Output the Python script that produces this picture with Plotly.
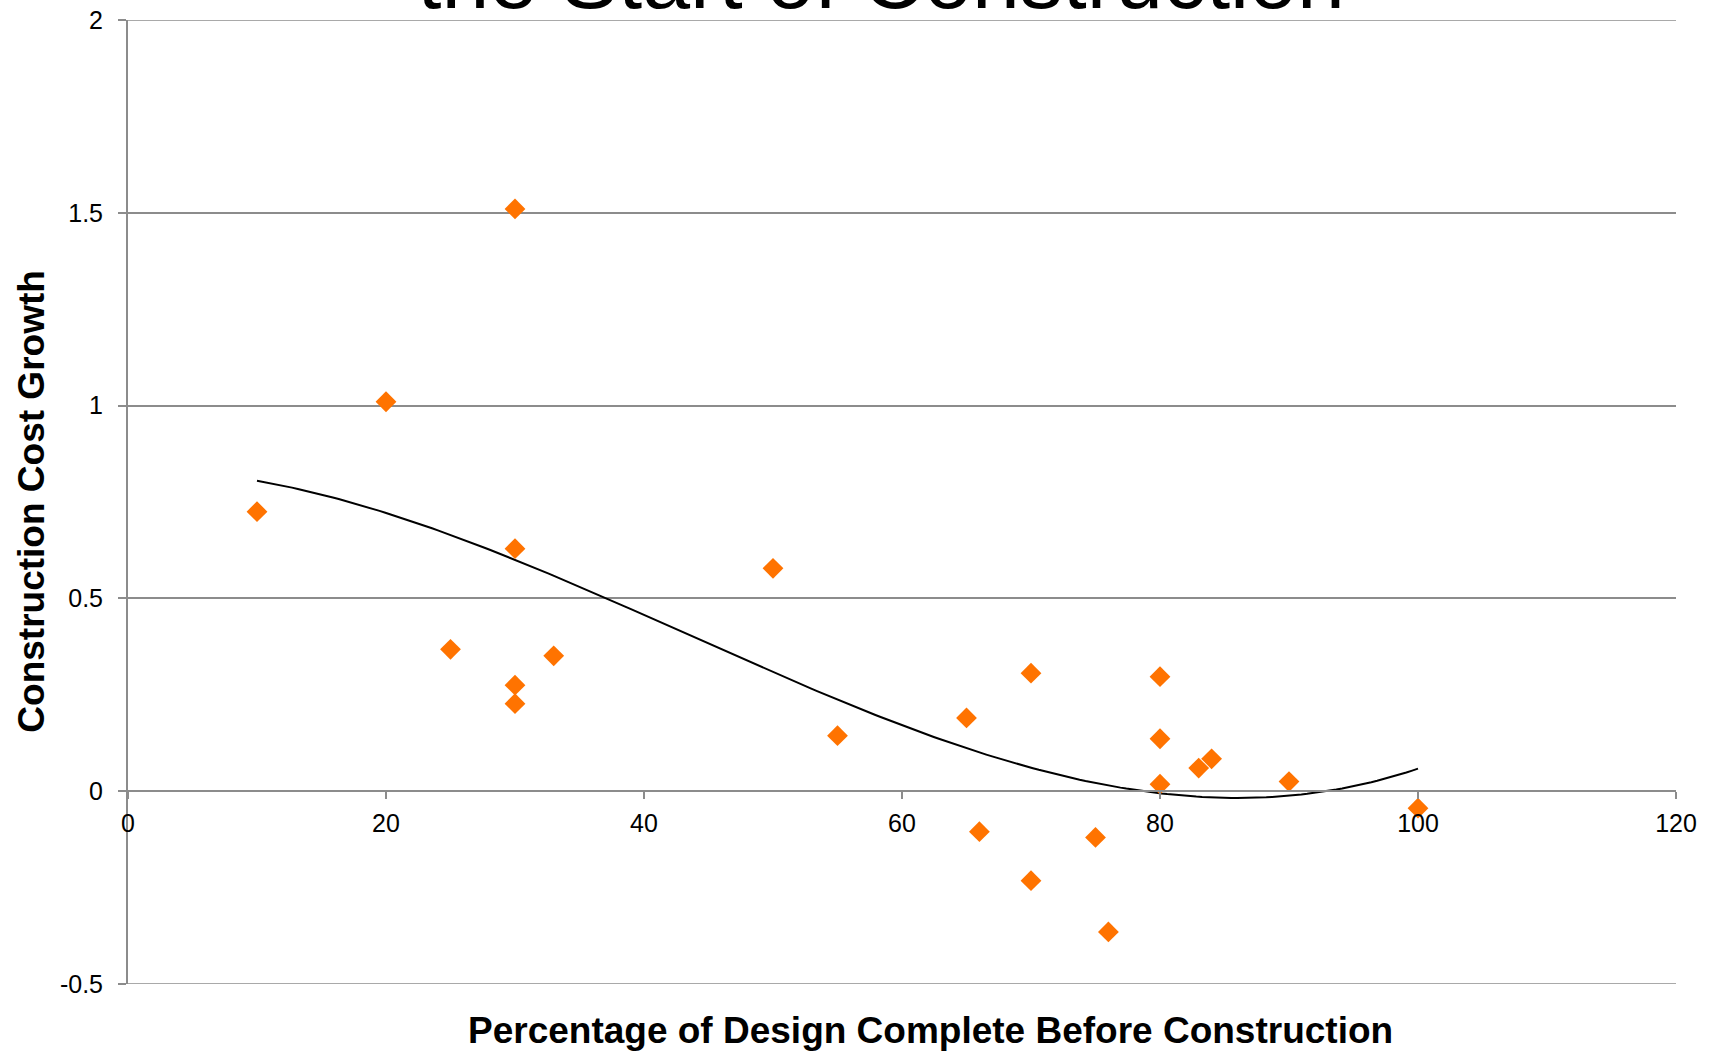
import numpy as np
import plotly.graph_objects as go

# Percentage of design complete at construction start vs. construction cost growth
design_complete = [10, 20, 25, 30, 30, 30, 30, 33, 50, 55, 65, 66, 70, 70,
                   75, 76, 80, 80, 80, 83, 84, 90, 100]
cost_growth = [0.725, 1.01, 0.368, 1.51, 0.629, 0.275, 0.227, 0.351, 0.578,
               0.144, 0.19, -0.105, 0.306, -0.232, -0.12, -0.365, 0.297,
               0.136, 0.018, 0.06, 0.084, 0.025, -0.044]

x_ticks = [0, 20, 40, 60, 80, 100, 120]
y_ticks = [-0.5, 0, 0.5, 1, 1.5, 2]

# Third-order polynomial trendline over the data range
coef = np.polyfit(design_complete, cost_growth, 3)
trend_x = np.linspace(min(design_complete), max(design_complete), 200)
trend_y = np.polyval(coef, trend_x)

AXIS_GREY = "#8c8c8c"
FONT = "Liberation Sans, Arial, sans-serif"
Y_MIN, Y_MAX = y_ticks[0], y_ticks[-1]

fig = go.Figure()
fig.add_trace(go.Scatter(
    x=trend_x, y=trend_y, mode="lines",
    line=dict(color="black", width=2), hoverinfo="skip", showlegend=False,
))
fig.add_trace(go.Scatter(
    x=design_complete, y=cost_growth, mode="markers",
    marker=dict(symbol="diamond", size=16, color="#ff7300", line=dict(width=0)),
    showlegend=False,
))

# gridlines on the top and bottom edges of the plot area
for yv in (Y_MIN, Y_MAX):
    fig.add_shape(type="line", xref="paper", yref="y", x0=0, x1=1, y0=yv, y1=yv,
                  line=dict(color=AXIS_GREY, width=1.5), layer="below")

fig.update_layout(
    width=1712, height=1051,
    margin=dict(l=128, r=36, t=20, b=67, autoexpand=False),
    paper_bgcolor="white", plot_bgcolor="white",
    font=dict(family=FONT, color="black"),
    title=dict(
        text="the Start of Construction",
        x=0.5147, xanchor="center", xref="container",
        y=1 - 8 / 1051, yanchor="bottom", yref="container",
        font=dict(size=86, family=FONT, color="black"),
    ),
    xaxis=dict(
        range=[0, 120], tickvals=x_ticks, ticktext=[str(v) for v in x_ticks],
        showgrid=False, zeroline=False, automargin=False,
        showline=True, linecolor=AXIS_GREY, linewidth=2,
        ticks="outside", ticklen=7, tickwidth=1.5, tickcolor=AXIS_GREY,
        tickfont=dict(size=25), ticklabelstandoff=3,
        anchor="free", position=(0 - Y_MIN) / (Y_MAX - Y_MIN),
    ),
    yaxis=dict(
        range=[Y_MIN, Y_MAX], tickvals=y_ticks, ticktext=[str(v) for v in y_ticks],
        showgrid=True, gridcolor=AXIS_GREY, gridwidth=1.5,
        zeroline=False, automargin=False,
        showline=True, linecolor=AXIS_GREY, linewidth=2,
        ticks="outside", ticklen=8, tickwidth=1.5, tickcolor=AXIS_GREY,
        tickfont=dict(size=25), ticklabelstandoff=10,
    ),
    annotations=[
        dict(text="<b>Percentage of Design Complete Before Construction</b>",
             x=0.5187, y=0, xref="paper", yref="paper", xanchor="center", yanchor="middle",
             yshift=-46, showarrow=False, font=dict(size=37, family=FONT)),
        dict(text="<b>Construction Cost Growth</b>", x=-0.0629, y=0.5,
             xref="paper", yref="paper", xanchor="center", yanchor="middle",
             textangle=-90, showarrow=False, font=dict(size=37, family=FONT)),
    ],
)

fig.write_html("out.html")
